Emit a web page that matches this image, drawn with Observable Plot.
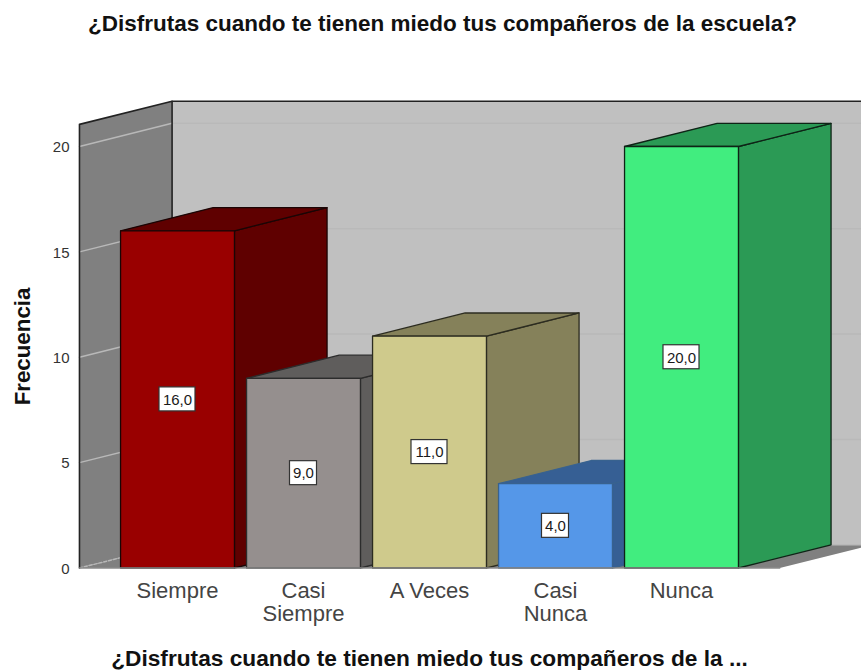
<!DOCTYPE html>
<html>
<head>
<meta charset="utf-8">
<script src="https://cdn.jsdelivr.net/npm/d3@7"></script>
<script src="https://cdn.jsdelivr.net/npm/@observablehq/plot@0.6"></script>
<style>
html,body{margin:0;padding:0;background:#fff;overflow:hidden}
#title{height:50px;font:bold 22.5px/48px "Liberation Sans",Arial,sans-serif;text-align:center;width:885px;color:#111;white-space:nowrap}
</style>
</head>
<body>
<div id="title">¿Disfrutas cuando te tienen miedo tus compañeros de la escuela?</div>
<div id="chart"></div>
<script>
const categories = ["Siempre", "Casi\nSiempre", "A Veces", "Casi\nNunca", "Nunca"];
const frequencies = [16, 9, 11, 4, 20];
const frontColors = ["#990000", "#958f8e", "#cfca8c", "#5597e8", "#41ed7f"];
const darkColors = ["#5f0000", "#5f5d5c", "#85815a", "#365f94", "#2b9a55"];
const edgeColors = ["#1a0505", "#2c2c2c", "#2c2c20", "#38628f", "#0e2416"];
const yTicks = [0, 5, 10, 15, 20];
const chartTitleX = "¿Disfrutas cuando te tienen miedo tus compañeros de la ...";
const chartTitleY = "Frecuencia";

// 3D projection expressed in data units
const depthX = 0.735, depthY = 1.1, halfBar = 0.452;
const wallLeft = -0.778, wallRight = 4.78, wallTop = 21.05;
const back = ([x, y]) => [x + depthX, y + depthY];
const asRows = a => a.map(([x, y]) => ({x, y}));

const poly = (corners, fill, stroke, strokeWidth = 1.3) =>
  Plot.line(asRows([...corners, corners[0]]), {x: "x", y: "y", fill, stroke, strokeWidth, strokeLinejoin: "round"});
const path = (corners, stroke, strokeWidth = 1.6, strokeDasharray = null) =>
  Plot.line(asRows(corners), {x: "x", y: "y", stroke, strokeWidth, strokeDasharray});

const marks = [];
const wallCorner = [wallLeft, wallTop];
const farRight = back([wallRight, wallTop]);
// back wall, floor, left wall
marks.push(poly([back(wallCorner), farRight, back([wallRight, 0]), back([wallLeft, 0])], "#c0c0c0", "none"));
marks.push(poly([[wallLeft, 0], [wallRight, 0], back([wallRight, 0]), back([wallLeft, 0])], "#808080", "none"));
marks.push(poly([[wallLeft, 0], wallCorner, back(wallCorner), back([wallLeft, 0])], "#808080", "none"));
// grid lines on both walls
for (const v of yTicks) {
  marks.push(path([[wallLeft, v], back([wallLeft, v])], "#b8b8b8", 1.5, v === 0 ? "3,2" : null));
  marks.push(path([back([wallLeft, v]), back([wallRight, v])], "#b9b9b9", 1.5));
}
// wall outline
marks.push(path([[wallLeft, 0], wallCorner, back(wallCorner), farRight], "#222"));
marks.push(path([back(wallCorner), back([wallLeft, 0])], "#222"));
// bars, back to front
frequencies.forEach((v, i) => {
  const l = i - halfBar, r = i + halfBar;
  marks.push(poly([[r, 0], [r, v], back([r, v]), back([r, 0])], darkColors[i], edgeColors[i]));
  marks.push(poly([[l, v], [r, v], back([r, v]), back([l, v])], darkColors[i], edgeColors[i]));
  marks.push(poly([[l, 0], [l, v], [r, v], [r, 0]], frontColors[i], edgeColors[i]));
});
// front edge of the floor
marks.push(path([[wallLeft, 0], [wallRight, 0]], "#8a8a8a", 1.3));

const rows = frequencies.map((v, i) => ({
  i, v, mid: v / 2, label: v.toFixed(1).replace(".", ",")
}));
const pxX = 1 / 126, pxY = 20 / 421.5;
marks.push(Plot.rect(rows, {
  x1: d => d.i - d.label.length * 4.5 * pxX,
  x2: d => d.i + d.label.length * 4.5 * pxX,
  y1: d => d.mid - 12 * pxY,
  y2: d => d.mid + 12 * pxY,
  fill: "#fff", stroke: "#333", strokeWidth: 1.2
}));
marks.push(Plot.text(rows, {x: "i", y: "mid", text: "label", fontSize: 15, fill: "#1a1a1a", dy: 0.5}));

const chart = Plot.plot({
  width: 861,
  height: 620,
  marginLeft: 79,
  marginRight: 0,
  marginTop: 0,
  marginBottom: 102,
  style: {background: "#fff", fontFamily: "'Liberation Sans', Arial, sans-serif"},
  x: {domain: [0, 4], range: [177, 681]},
  y: {domain: [0, 20], range: [517.5, 96]},
  marks: [
    ...marks,
    Plot.axisY({ticks: yTicks, tickSize: 0, tickPadding: 10, fontSize: 15, color: "#333", label: null, dy: 1}),
    Plot.axisX({ticks: [0, 1, 2, 3, 4], tickFormat: i => categories[i], tickSize: 0, tickPadding: 13,
      fontSize: 22, color: "#444", label: null, lineHeight: 1.05}),
    Plot.text([chartTitleX], {text: d => d, frameAnchor: "bottom", dx: -41, dy: 90, lineAnchor: "middle",
      fontSize: 22.7, fontWeight: "bold", fill: "#111"}),
    Plot.text([chartTitleY], {text: d => d, frameAnchor: "left", dx: -57, dy: 37, rotate: -90, lineAnchor: "middle",
      textAnchor: "middle", fontSize: 22.3, fontWeight: "bold", fill: "#111"})
  ]
});
document.getElementById("chart").append(chart);
</script>
</body>
</html>
